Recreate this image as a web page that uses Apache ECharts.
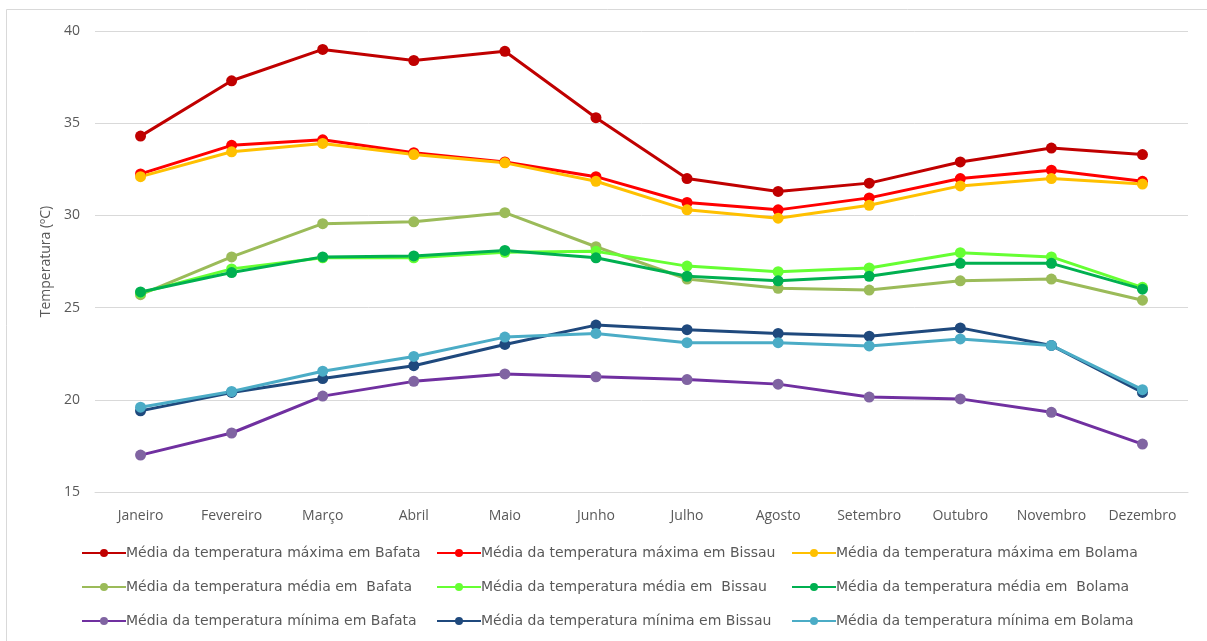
<!DOCTYPE html>
<html>
<head>
<meta charset="utf-8">
<script src="https://cdn.jsdelivr.net/npm/echarts@6/dist/echarts.min.js"></script>
<style>
  html, body { margin: 0; padding: 0; background: #fff; }
  #chart { width: 1207px; height: 641px; }
</style>
</head>
<body>
<div id="chart"></div>
<script>
const months = ["Janeiro", "Fevereiro", "Março", "Abril", "Maio", "Junho", "Julho", "Agosto", "Setembro", "Outubro", "Novembro", "Dezembro"]

// máximas
const maxBafata = [34.3, 37.3, 39.0, 38.4, 38.9, 35.3, 32.0, 31.3, 31.75, 32.9, 33.65, 33.3]
const maxBissau = [32.25, 33.8, 34.1, 33.4, 32.9, 32.1, 30.7, 30.3, 30.95, 32.0, 32.45, 31.85]
const maxBolama = [32.1, 33.45, 33.9, 33.3, 32.85, 31.85, 30.3, 29.85, 30.55, 31.6, 32.0, 31.7]
// médias
const medBafata = [25.7, 27.75, 29.55, 29.65, 30.15, 28.3, 26.55, 26.05, 25.95, 26.45, 26.55, 25.4]
const medBissau = [25.8, 27.1, 27.7, 27.7, 28.0, 28.05, 27.25, 26.95, 27.15, 27.98, 27.75, 26.1]
const medBolama = [25.85, 26.9, 27.75, 27.8, 28.1, 27.7, 26.7, 26.45, 26.7, 27.4, 27.4, 26.0]
// mínimas
const minBafata = [17.0, 18.2, 20.2, 21.0, 21.4, 21.25, 21.1, 20.85, 20.15, 20.05, 19.32, 17.6]
const minBissau = [19.4, 20.4, 21.15, 21.85, 23.0, 24.05, 23.8, 23.6, 23.45, 23.9, 22.95, 20.4]
const minBolama = [19.6, 20.45, 21.55, 22.35, 23.4, 23.6, 23.1, 23.1, 22.92, 23.3, 22.95, 20.55]

const yTicks = [15, 20, 25, 30, 35, 40]

const seriesDefs = [
  { name: "Média da temperatura máxima em Bafata", data: maxBafata, line: "#C00000", dot: "#C00000" },
  { name: "Média da temperatura máxima em Bissau", data: maxBissau, line: "#FF0000", dot: "#FF0000" },
  { name: "Média da temperatura máxima em Bolama", data: maxBolama, line: "#FFC000", dot: "#FFC000" },
  { name: "Média da temperatura média em  Bafata", data: medBafata, line: "#9BBB59", dot: "#9BBB59" },
  { name: "Média da temperatura média em  Bissau", data: medBissau, line: "#66FF33", dot: "#66FF33" },
  { name: "Média da temperatura média em  Bolama", data: medBolama, line: "#00B050", dot: "#00B050" },
  { name: "Média da temperatura mínima em Bafata", data: minBafata, line: "#7030A0", dot: "#8064A2" },
  { name: "Média da temperatura mínima em Bissau", data: minBissau, line: "#1F497D", dot: "#1F497D" },
  { name: "Média da temperatura mínima em Bolama", data: minBolama, line: "#4BACC6", dot: "#4BACC6" },
]

const txt = "#595959"
const font = "Open Sans"

// uma legenda por coluna (3 linhas cada)
const legendCols = [0, 1, 2].map(function (c) {
  return {
    orient: "vertical",
    left: [76, 431, 786][c],
    top: 541,
    itemWidth: 44,
    itemHeight: 10,
    itemGap: 20,
    textStyle: { color: txt, fontFamily: "DejaVu Sans", fontSize: 14, padding: [0, 0, 0, -5] },
    data: [seriesDefs[c].name, seriesDefs[c + 3].name, seriesDefs[c + 6].name],
  }
})

let option = {
  animation: false,
  backgroundColor: "#fff",
  textStyle: { fontFamily: font },
  grid: { left: 95, right: 19, top: 31, bottom: 149 },
  graphic: [
    {
      type: "rect",
      shape: { x: 6.5, y: 9.5, width: 1220, height: 640 },
      style: { fill: "none", stroke: "#D9D9D9", lineWidth: 1 },
      silent: true,
    },
  ],
  legend: legendCols,
  xAxis: {
    type: "category",
    data: months,
    boundaryGap: true,
    axisLine: { show: true, lineStyle: { color: "#D9D9D9" } },
    axisTick: { show: false },
    axisLabel: { color: txt, fontSize: 14, fontFamily: font, margin: 17 },
  },
  yAxis: {
    type: "value",
    min: yTicks[0],
    max: yTicks[yTicks.length - 1],
    interval: 5,
    name: "Temperatura (ºC)",
    nameLocation: "middle",
    nameGap: 42,
    nameTextStyle: { color: txt, fontSize: 14, fontFamily: font },
    axisLine: { show: false },
    axisTick: { show: false },
    axisLabel: { color: txt, fontSize: 14, fontFamily: font, margin: 15 },
    splitLine: { lineStyle: { color: "#D9D9D9" } },
  },
  series: seriesDefs.map(function (s) {
    return {
      name: s.name,
      type: "line",
      data: s.data,
      symbol: "circle",
      symbolSize: 11,
      lineStyle: { color: s.line, width: 3 },
      itemStyle: { color: s.dot, borderWidth: 0 },
    }
  }),
}

let chart = echarts.init(document.getElementById("chart"))
chart.setOption(option)
</script>
</body>
</html>
